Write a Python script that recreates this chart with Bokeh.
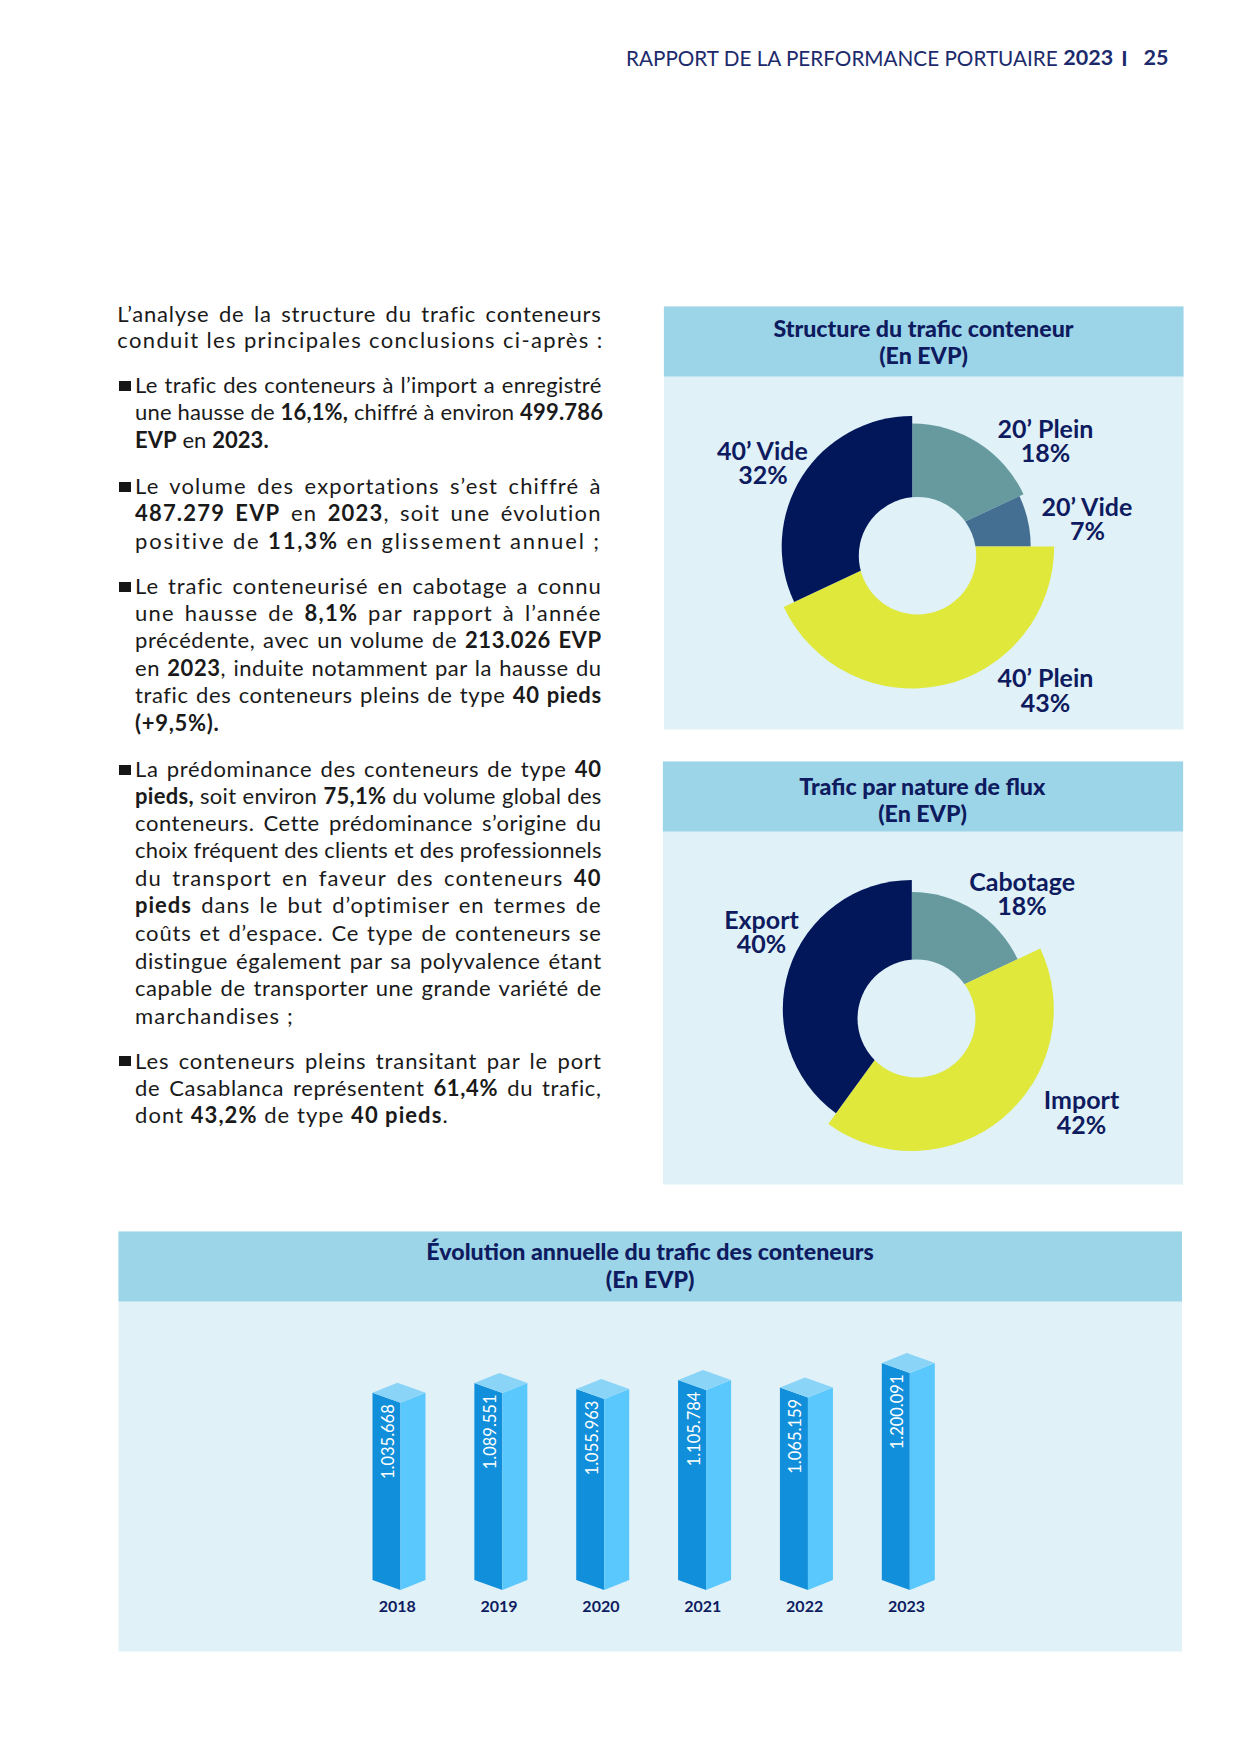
import math
import unicodedata
from bokeh.plotting import figure
from bokeh.layouts import column, row
from bokeh.models import Div, Range1d
from bokeh.core.properties import value
from bokeh.embed import file_html
from bokeh.resources import INLINE

# ---------------- data ----------------
struct_labels = ["20’ Plein", "20’ Vide", "40’ Plein", "40’ Vide"]
struct_pct = [18, 7, 43, 32]
flux_labels = ["Cabotage", "Import", "Export"]
flux_pct = [18, 42, 40]
years = ["2018", "2019", "2020", "2021", "2022", "2023"]
traffic = [1035668, 1089551, 1055963, 1105784, 1065159, 1200091]

header_regular = "RAPPORT DE LA PERFORMANCE PORTUAIRE"
header_year = "2023"
header_sep = "I"
header_page = "25"
title_struct = "Structure du trafic conteneur"
title_flux = "Trafic par nature de flux"
title_evol = "Évolution annuelle du trafic des conteneurs"
unit = "(En EVP)"

# paragraph lines: (markup text, justified)
para = [
    [("L’analyse de la structure du trafic conteneurs", True),
     ("conduit les principales conclusions ci-après :", False)],
    [("Le trafic des conteneurs à l’import a enregistré", True),
     ("une hausse de **16,1%,** chiffré à environ **499.786**", True),
     ("**EVP** en **2023.**", False)],
    [("Le volume des exportations s’est chiffré à", True),
     ("**487.279 EVP** en **2023**, soit une évolution", True),
     ("positive de **11,3%** en glissement annuel ;", False)],
    [("Le trafic conteneurisé en cabotage a connu", True),
     ("une hausse de **8,1%** par rapport à l’année", True),
     ("précédente, avec un volume de **213.026 EVP**", True),
     ("en **2023**, induite notamment par la hausse du", True),
     ("trafic des conteneurs pleins de type **40 pieds**", True),
     ("**(+9,5%).**", False)],
    [("La prédominance des conteneurs de type **40**", True),
     ("**pieds,** soit environ **75,1%** du volume global des", True),
     ("conteneurs. Cette prédominance s’origine du", True),
     ("choix fréquent des clients et des professionnels", True),
     ("du transport en faveur des conteneurs **40**", True),
     ("**pieds** dans le but d’optimiser en termes de", True),
     ("coûts et d’espace. Ce type de conteneurs se", True),
     ("distingue également par sa polyvalence étant", True),
     ("capable de transporter une grande variété de", True),
     ("marchandises ;", False)],
    [("Les conteneurs pleins transitant par le port", True),
     ("de Casablanca représentent **61,4%** du trafic,", True),
     ("dont **43,2%** de type **40 pieds**.", False)],
]

# ---------------- styles / layout ----------------
NAVY_TXT = "#0E1B5F"
HEAD_TXT = "#1C2A6C"
BAND = "#9DD5E8"
BODY = "#E0F1F8"
TITLE_FONT = value("Lato Black, Lato")
struct_colors = ["#679A9F", "#456F92", "#DFE83B", "#02165A"]
flux_colors = ["#679A9F", "#DFE83B", "#02165A"]
struct_radii = [123, 118.5, 142, 130.5]
flux_radii = [117, 142, 129]
struct_lab_x = [1045, 1087, 1045, 762.5]
struct_lab_base = [436, 514, 685.7, 458.3]
flux_lab_x = [1021.6, 1081, 761]
flux_lab_base = [889.3, 1107.7, 927.3]
LAB_GAP = 24.6
CAPC = 0.36  # cap-centre above baseline, in em

line_baselines = [321.8, 348.6,
                  393.3, 420.2, 448.1,
                  494.0, 520.8, 548.8,
                  594.6, 621.4, 648.3, 676.2, 703.1, 731.0,
                  776.9, 803.7, 831.6, 858.5, 886.4, 913.3, 941.2, 969.2, 996.0, 1024.0,
                  1068.7, 1096.6, 1123.5]
# right end of the non-justified (last) lines, page px
last_line_end = {1: 597.0, 4: 267.2, 7: 593.7, 13: 222.5, 23: 293.0, 26: 445.0}

# ---------------- left text column (HTML) ----------------
FS = 22
LH = 27.3
BASE_OFF = (LH - 1.2 * FS) / 2 + 0.987 * FS
RIGHT = 601.7

# approximate advance widths (per 2000 em) used to spread letters like the original
ADV = {" ": 386, "a": 1001, "b": 1135, "c": 937, "d": 1135, "e": 1044, "f": 683,
       "g": 1022, "h": 1124, "i": 480, "j": 480, "k": 1040, "l": 480, "m": 1680,
       "n": 1124, "o": 1144, "p": 1118, "q": 1135, "r": 766, "s": 862, "t": 740,
       "u": 1124, "v": 1040, "w": 1560, "x": 1000, "y": 1040, "z": 920,
       ".": 430, ",": 430, ";": 430, ":": 430, "’": 430, "%": 1600, "(": 640,
       ")": 640, "+": 1160, "-": 700, "A": 1360, "C": 1340, "E": 1120, "L": 980,
       "P": 1200, "V": 1360}


def adv(ch):
    if ch.isdigit():
        return 1160
    if ch in ADV:
        return ADV[ch]
    base = unicodedata.normalize("NFD", ch)[0]
    return ADV.get(base, 1100)


def natural(s):
    w, n = 0.0, 0
    for k, part in enumerate(s.split("**")):
        f = 1.03 if k % 2 else 1.0
        for ch in part:
            w += adv(ch) * f
            n += 1
    return w / 2000 * FS, n


def seg_html(s):
    parts = s.split("**")
    out = ""
    for k, part in enumerate(parts):
        out += f'<b style="font-weight:700">{part}</b>' if k % 2 else part
    return out


items = []
li = 0
for pi, lines in enumerate(para):
    for j, (line, just) in enumerate(lines):
        b = line_baselines[li]
        left = 117.3 if pi == 0 else 135.0
        if pi > 0 and j == 0:
            items.append(
                f'<div style="position:absolute;left:119.3px;top:{b-12.3:.1f}px;'
                f'width:11.4px;height:10px;background:#161616"></div>')
        w, n = natural(line)
        if just:
            ls = max(0.0, min(2.5, 0.65 * (RIGHT - left - w) / n))
        else:
            ls = max(-0.3, min(2.5, (last_line_end[li] - left - w) / n))
        ta = "justify" if just else "left"
        items.append(
            f'<div style="position:absolute;left:{left:.1f}px;top:{b-BASE_OFF:.1f}px;'
            f'width:{RIGHT-left:.1f}px;height:{LH}px;line-height:{LH}px;font-size:{FS}px;'
            f'letter-spacing:{ls:.2f}px;white-space:nowrap;text-align:{ta};'
            f'text-align-last:{ta}">{seg_html(line)}</div>')
        li += 1

html = ('<div style="position:relative;width:610px;height:1200px;'
        'font-family:Lato, sans-serif;color:#1a1a1a;">' + "".join(items) + '</div>')
div = Div(text=html, width=610, height=1200, margin=0)

# ---------------- right figure (header + 2 donuts) ----------------
RX0, RX1, RY0, RY1 = 610, 1232, 0, 1200


def YR(py):
    return RY1 - py


pr = figure(width=RX1 - RX0, height=RY1 - RY0, x_range=Range1d(RX0, RX1),
            y_range=Range1d(0, RY1 - RY0), output_backend="svg", toolbar_location=None,
            tools="", min_border=0, x_axis_type=None, y_axis_type=None,
            outline_line_color=None, background_fill_color="white",
            border_fill_color="white", margin=0)


def txt(p, Y, xs, bases, texts, size, bold=True, align="center", color=NAVY_TXT,
        font=value("Lato")):
    p.text(x=xs, y=[Y(b - CAPC * size) for b in bases], text=texts, text_font=font,
           text_font_style="bold" if bold else "normal", text_font_size=f"{size}px",
           text_color=color, text_align=align, text_baseline="middle")


# header
txt(pr, YR, [1058.5], [65], [header_regular], 20.7, bold=False, align="right", color=HEAD_TXT)
txt(pr, YR, [1062.8], [65], [header_year], 21.5, align="left", color=HEAD_TXT)
txt(pr, YR, [1124], [65], [header_sep], 21.5, align="center", color=HEAD_TXT)
txt(pr, YR, [1168], [65], [header_page], 21.5, align="right", color=HEAD_TXT)


def panel(p, Y, left, right, top, band_bottom, bottom, title, tcx, tb1, tb2):
    p.quad(left=left, right=right, top=Y(top), bottom=Y(bottom), fill_color=BODY,
           line_color=None)
    p.quad(left=left, right=right, top=Y(top), bottom=Y(band_bottom), fill_color=BAND,
           line_color=None)
    txt(p, Y, [tcx, tcx], [tb1, tb2], [title, unit], 23.2, font=TITLE_FONT)


def donut(p, pct, radii, colors, cx, cy, hx, hy, hr):
    starts, ends = [], []
    cum = 0
    for v in pct:
        a1 = math.radians(90 - 3.6 * cum)
        cum += v
        a2 = math.radians(90 - 3.6 * cum)
        starts.append(a2)
        ends.append(a1)
    p.wedge(x=cx, y=cy, radius=radii, start_angle=starts, end_angle=ends,
            fill_color=colors, line_color=None)
    p.circle(x=[hx], y=[hy], radius=hr, fill_color=BODY, line_color=None)


def labels(p, names, pct, xs, bases):
    txt(p, YR, xs, bases, names, 25)
    txt(p, YR, xs, [b + LAB_GAP for b in bases], [f"{v}%" for v in pct], 25)


panel(pr, YR, 663.4, 1183, 306, 376, 729, title_struct, 923, 336, 362.7)
donut(pr, struct_pct, struct_radii, struct_colors, 911.7, YR(546), 917, YR(555.3), 58.7)
labels(pr, struct_labels, struct_pct, struct_lab_x, struct_lab_base)

panel(pr, YR, 662.4, 1182.6, 761, 831, 1184, title_flux, 922, 794.3, 821)
donut(pr, flux_pct, flux_radii, flux_colors, 911.3, YR(1008.5), 916, YR(1018), 59)
labels(pr, flux_labels, flux_pct, flux_lab_x, flux_lab_base)

# ---------------- bottom figure (3D bars) ----------------
BX0, BX1, BY0, BY1 = 0, 1232, 1200, 1746
PX0, SP = 400.0, 101.86          # page x of first bar front edge, spacing
BASE_Y, KPX = 1589.5, 1.808e-4   # page y of baseline, px per EVP
EPP = 1.0 / KPX


def XB(px):
    return (px - PX0) / SP


def YB(py):
    return (BASE_Y - py) * EPP


pb = figure(width=BX1 - BX0, height=BY1 - BY0, x_range=Range1d(XB(BX0), XB(BX1)),
            y_range=Range1d(YB(BY1), YB(BY0)), output_backend="svg",
            toolbar_location=None, tools="", min_border=0, x_axis_type=None,
            y_axis_type=None, outline_line_color=None, background_fill_color="white",
            border_fill_color="white", margin=0)

panel(pb, YB, XB(118), XB(1181.5), 1231, 1301, 1651, title_evol, XB(649.6), 1259.3, 1286.7)

dxl, dxr, dy = 28 / SP, 25 / SP, 10 * EPP
idx = list(range(len(years)))
left_xs = [[i - dxl, i, i, i - dxl] for i in idx]
left_ys = [[v + dy, v, 0, dy] for v in traffic]
right_xs = [[i, i + dxr, i + dxr, i] for i in idx]
right_ys = [[v, v + dy, dy, 0] for v in traffic]
top_xs = [[i, i - dxl, i - dxl + dxr, i + dxr] for i in idx]
top_ys = [[v, v + dy, v + 2 * dy, v + dy] for v in traffic]
pb.patches(xs=left_xs, ys=left_ys, fill_color="#118FDA", line_color=None)
pb.patches(xs=right_xs, ys=right_ys, fill_color="#5AC8FC", line_color=None)
pb.patches(xs=top_xs, ys=top_ys, fill_color="#8AD4F8", line_color=None)

pb.text(x=[i - 13 / SP for i in idx], y=[v - 1.5 * EPP for v in traffic],
        text=[f"{v:,}".replace(",", ".") for v in traffic], angle=math.pi / 2,
        text_font=value("Lato"), text_font_size="16.5px", text_color="white",
        text_align="right", text_baseline="middle")
txt(pb, YB, [i - 3.3 / SP for i in idx], [1611.3] * len(idx), years, 16)

layout = column(row(div, pr, spacing=0), pb, spacing=0)
open("out.html", "w").write(file_html(layout, INLINE))
